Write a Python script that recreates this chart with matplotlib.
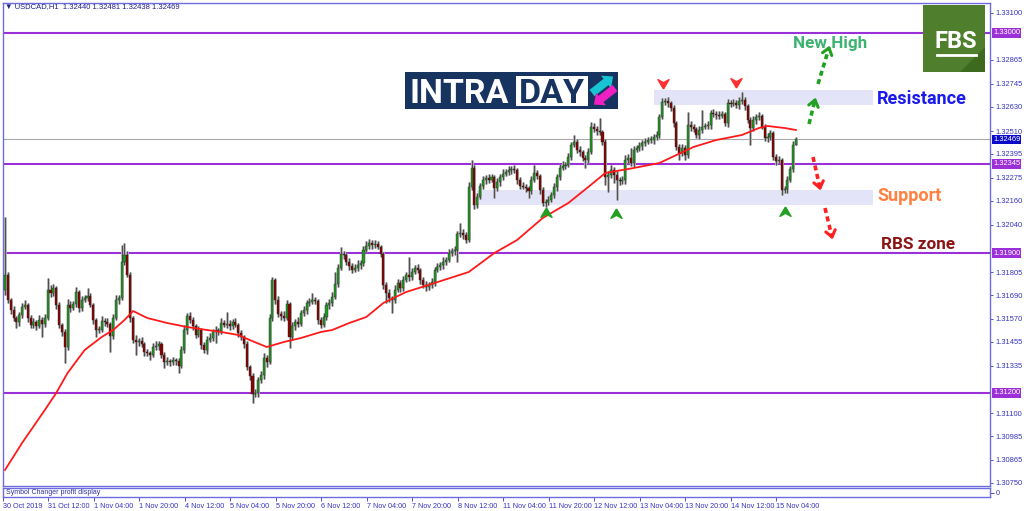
import numpy as np
import matplotlib
matplotlib.use("Agg")
import matplotlib.pyplot as plt
from matplotlib.patches import Rectangle, Polygon, FancyArrow
from matplotlib.lines import Line2D
from matplotlib.transforms import Affine2D, blended_transform_factory

W, H = 1024, 511

# 가격은 1.30000 기준 포인트(1e-5) 단위
FIRST_OPEN = 1715
CLOSE_PTS = [
    1790, 1665, 1615, 1575, 1555, 1590, 1630, 1640, 1575, 1540,
    1555, 1535, 1565, 1545, 1575, 1715, 1700, 1725, 1640, 1540,
    1505, 1430, 1640, 1625, 1645, 1705, 1625, 1665, 1675, 1685,
    1640, 1565, 1515, 1515, 1560, 1555, 1545, 1485, 1575, 1665,
    1675, 1855, 1890, 1790, 1575, 1465, 1455, 1460, 1445, 1405,
    1400, 1390, 1430, 1435, 1445, 1390, 1355, 1360, 1355, 1365,
    1360, 1335, 1415, 1515, 1585, 1565, 1535, 1490, 1515, 1440,
    1415, 1465, 1475, 1505, 1515, 1510, 1550, 1540, 1545, 1535,
    1555, 1540, 1500, 1480, 1445, 1330, 1285, 1195, 1200, 1265,
    1290, 1375, 1355, 1575, 1765, 1665, 1595, 1585, 1575, 1645,
    1480, 1535, 1555, 1545, 1600, 1615, 1650, 1655, 1665, 1660,
    1565, 1540, 1580, 1640, 1650, 1680, 1745, 1825, 1895, 1890,
    1855, 1835, 1815, 1825, 1840, 1850, 1915, 1935, 1950, 1940,
    1945, 1930, 1895, 1740, 1700, 1675, 1665, 1715, 1750, 1725,
    1765, 1790, 1780, 1805, 1825, 1815, 1765, 1740, 1730, 1740,
    1755, 1815, 1830, 1840, 1855, 1865, 1900, 1910, 1915, 1995,
    2000, 1990, 1965, 2230, 2325, 2140, 2180, 2235, 2265, 2275,
    2265, 2280, 2225, 2255, 2280, 2295, 2305, 2315, 2320, 2315,
    2265, 2235, 2230, 2225, 2210, 2265, 2300, 2285, 2215, 2150,
    2155, 2165, 2190, 2230, 2280, 2325, 2335, 2340, 2380, 2440,
    2455, 2415, 2405, 2375, 2365, 2405, 2530, 2520, 2510, 2505,
    2455, 2280, 2290, 2315, 2290, 2265, 2260, 2265, 2365, 2375,
    2350, 2415, 2425, 2435, 2450, 2455, 2465, 2465, 2480, 2490,
    2580, 2655, 2660, 2650, 2625, 2550, 2430, 2400, 2425, 2390,
    2540, 2530, 2520, 2490, 2515, 2530, 2535, 2540, 2600, 2595,
    2590, 2585, 2595, 2550, 2650, 2645, 2650, 2640, 2660, 2665,
    2635, 2565, 2525, 2565, 2580, 2585, 2530, 2475, 2480, 2500,
    2380, 2360, 2365, 2215, 2220, 2265, 2320, 2440, 2469,
]
UP_PTS = [
    290, 15, 10, 20, 10, 15, 20, 25, 10, 15,
    20, 10, 25, 15, 20, 60, 25, 20, 10, 15,
    10, 15, 30, 20, 15, 25, 10, 20, 15, 40,
    15, 10, 10, 20, 25, 15, 20, 10, 20, 25,
    15, 85, 60, 20, 15, 10, 25, 15, 20, 10,
    15, 10, 20, 25, 15, 10, 15, 20, 10, 15,
    10, 15, 20, 25, 15, 20, 15, 10, 20, 10,
    15, 20, 25, 15, 20, 10, 25, 15, 60, 20,
    15, 20, 10, 15, 10, 15, 10, 15, 20, 15,
    20, 25, 15, 20, 15, 10, 20, 15, 25, 20,
    10, 20, 15, 25, 15, 20, 15, 20, 35, 15,
    10, 15, 20, 15, 20, 25, 60, 20, 35, 15,
    10, 20, 15, 20, 25, 15, 20, 25, 20, 15,
    20, 15, 10, 10, 15, 20, 10, 25, 20, 15,
    20, 15, 90, 20, 15, 20, 10, 15, 20, 15,
    20, 15, 20, 15, 25, 15, 20, 15, 20, 15,
    50, 20, 15, 25, 40, 15, 20, 15, 20, 15,
    20, 15, 10, 20, 15, 25, 15, 20, 15, 20,
    10, 15, 20, 15, 10, 20, 40, 15, 10, 15,
    15, 20, 15, 20, 15, 20, 25, 15, 20, 15,
    35, 15, 20, 10, 15, 20, 25, 20, 15, 65,
    10, 15, 20, 25, 15, 20, 15, 20, 25, 20,
    50, 20, 15, 20, 15, 20, 15, 20, 15, 20,
    15, 20, 15, 20, 10, 15, 10, 15, 20, 15,
    65, 20, 15, 10, 20, 85, 15, 20, 15, 20,
    15, 20, 15, 10, 20, 15, 20, 15, 20, 40,
    15, 10, 15, 20, 15, 20, 10, 15, 20, 15,
    10, 15, 20, 10, 15, 20, 15, 20, 12,
]
DN_PTS = [
    25, 15, 20, 15, 30, 20, 15, 10, 20, 15,
    15, 20, 10, 65, 15, 10, 20, 15, 20, 15,
    20, 80, 15, 20, 10, 15, 20, 15, 10, 15,
    10, 20, 35, 15, 10, 20, 15, 80, 15, 10,
    20, 10, 15, 10, 20, 15, 65, 20, 15, 20,
    15, 25, 10, 15, 20, 15, 30, 15, 20, 15,
    20, 35, 10, 15, 20, 15, 20, 15, 10, 20,
    15, 20, 10, 15, 55, 20, 15, 10, 15, 20,
    15, 10, 20, 15, 20, 15, 20, 45, 15, 20,
    15, 20, 25, 10, 15, 20, 15, 20, 15, 10,
    55, 15, 20, 15, 10, 15, 20, 15, 10, 15,
    20, 15, 10, 15, 20, 15, 10, 15, 10, 20,
    15, 20, 15, 10, 15, 20, 15, 10, 15, 20,
    15, 10, 15, 20, 50, 20, 65, 15, 10, 20,
    15, 10, 20, 15, 10, 15, 20, 15, 20, 15,
    15, 20, 10, 15, 20, 15, 10, 15, 20, 60,
    15, 20, 15, 10, 15, 20, 15, 10, 15, 20,
    15, 10, 50, 15, 20, 15, 10, 15, 20, 15,
    20, 15, 10, 20, 35, 15, 10, 15, 20, 15,
    20, 15, 10, 15, 20, 15, 10, 15, 10, 15,
    10, 15, 20, 15, 40, 15, 10, 15, 20, 15,
    15, 40, 75, 15, 40, 100, 20, 15, 20, 15,
    15, 20, 10, 15, 20, 15, 10, 15, 20, 15,
    15, 10, 15, 20, 15, 20, 15, 35, 15, 25,
    15, 20, 15, 15, 20, 15, 10, 15, 20, 15,
    20, 15, 10, 15, 20, 15, 10, 15, 20, 15,
    20, 15, 85, 15, 20, 15, 10, 15, 20, 15,
    15, 20, 10, 25, 15, 20, 10, 15, 2,
]
# 이동평균선 (봉 번호, 포인트)
MA_BARS = [0, 6, 14, 18, 22, 28, 34, 38, 42, 45, 50, 57, 64, 71, 76, 82, 86,
           92, 98, 104, 111, 115, 121, 127, 133, 141, 151, 163, 172, 180, 189,
           198, 205, 211, 221, 230, 236, 242, 250, 259, 265, 268, 274, 278]
MA_PTS = [815, 950, 1115, 1200, 1300, 1415, 1480, 1515, 1565, 1610, 1575,
          1550, 1530, 1515, 1505, 1490, 1465, 1430, 1455, 1475, 1505, 1515,
          1550, 1580, 1650, 1705, 1750, 1805, 1900, 1965, 2075, 2150, 2230,
          2300, 2325, 2350, 2390, 2430, 2465, 2490, 2525, 2535, 2525, 2515]

TIME_LABELS = ["30 Oct 2019", "31 Oct 12:00", "1 Nov 04:00", "1 Nov 20:00",
               "4 Nov 12:00", "5 Nov 04:00", "5 Nov 20:00", "6 Nov 12:00",
               "7 Nov 04:00", "7 Nov 20:00", "8 Nov 12:00", "11 Nov 04:00",
               "11 Nov 20:00", "12 Nov 12:00", "13 Nov 04:00", "13 Nov 20:00",
               "14 Nov 12:00", "15 Nov 04:00"]
TIME_STEP = 16
PRICE_TICKS = [1.33100, 1.32865, 1.32745, 1.32630, 1.32510, 1.32395, 1.32275,
               1.32160, 1.32040, 1.31805, 1.31690, 1.31570, 1.31455, 1.31335,
               1.31100, 1.30985, 1.30865, 1.30750]
LEVELS = [1.33000, 1.32345, 1.31900, 1.31200]
LAST_PRICE = 1.32469
HEADER = "▼ USDCAD,H1  1.32440 1.32481 1.32438 1.32469"

SMALL = ["Liberation Sans", "DejaVu Sans"]
AXIS_BLUE = "#3434c4"
FRAME = "#6c6ce0"
PURPLE = "#9b30d9"

close = 1.3 + np.array(CLOSE_PTS) / 1e5
open_ = np.concatenate([[1.3 + FIRST_OPEN / 1e5], close[:-1]])
hi = np.maximum(open_, close) + np.array(UP_PTS) / 1e5
lo = np.minimum(open_, close) - np.array(DN_PTS) / 1e5
idx = np.arange(len(close))
bull = close >= open_

fig = plt.figure(figsize=(W / 100, H / 100), dpi=100)
fig.patch.set_facecolor("white")
PX = Affine2D().scale(1 / W, -1 / H).translate(0, 1) + fig.transFigure

XL = (-0.7, 346.2)
ax = fig.add_axes([3 / W, 1 - 486 / H, 987 / W, 483 / H])
ax.set_xlim(*XL)
ax.set_ylim(1.30735, 1.3315)
for s in ax.spines.values():
    s.set_color(FRAME)
    s.set_linewidth(1.0)

# 지지/저항 구간
ax.add_patch(Rectangle((228, 1.32640), 77, 0.00075, fc="#e4e4f8", ec="none", zorder=0.5))
ax.add_patch(Rectangle((166, 1.32140), 139, 0.00075, fc="#e4e4f8", ec="none", zorder=0.5))

for lv in LEVELS:
    ax.axhline(lv, color=PURPLE, lw=1.5, zorder=1)
ax.axhline(LAST_PRICE, color="#a8a8a8", lw=0.8, zorder=1)

# 캔들 (연한 회색 그림자 + 심지 + 몸통)
ax.vlines(idx, lo, hi, color="#b8b8b8", lw=2.0, zorder=1.8)
ax.vlines(idx, lo, hi, color="#505050", lw=0.8, zorder=2)
body = np.maximum(np.abs(close - open_), 0.00003)
ax.bar(idx, body, bottom=np.minimum(open_, close), width=0.72,
       color=np.where(bull, "#1e9e1e", "#8b0000"), edgecolor="#2a2a2a",
       linewidth=0.3, zorder=3)

ax.plot(MA_BARS, 1.3 + np.array(MA_PTS) / 1e5, color="#ff1a1a", lw=1.3, zorder=4)

# 고점/저점 표시
chev_up = [(0, 1), (1, -0.7), (0, -0.15), (-1, -0.7), (0, 1)]
chev_dn = [(x, -y) for x, y in chev_up]
for b, p in [(231.3, 1.32750), (256.9, 1.32755)]:
    ax.plot(b, p, marker=chev_dn, color="#ff3030", ms=8, zorder=5)
for b, p in [(190.2, 1.32100), (214.8, 1.32095), (274.2, 1.32105)]:
    ax.plot(b, p, marker=chev_up, color="#22a022", ms=8, zorder=5)

ax.set_xticks([])
ax.yaxis.tick_right()
ax.set_yticks(PRICE_TICKS)
ax.set_yticklabels([f"{t:.5f}" for t in PRICE_TICKS], family=SMALL)
ax.tick_params(axis="y", length=2, width=0.6, color=AXIS_BLUE,
               labelcolor=AXIS_BLUE, labelsize=5.4, pad=2)

tr = blended_transform_factory(ax.transAxes, ax.transData)
for lv in LEVELS:
    ax.text(1.003, lv, f"{lv:.5f}", transform=tr, ha="left", va="center",
            fontsize=5.4, family=SMALL, color="white", zorder=6,
            bbox=dict(boxstyle="square,pad=0.15", fc=PURPLE, ec="none"))
ax.text(1.003, LAST_PRICE, f"{LAST_PRICE:.5f}", transform=tr, ha="left",
        va="center", fontsize=5.4, family=SMALL, color="white", zorder=6,
        bbox=dict(boxstyle="square,pad=0.15", fc="#0a0ac8", ec="none"))

# 보조창 + 시간축
sub = fig.add_axes([3 / W, 1 - 497 / H, 987 / W, 9 / H])
sub.set_xlim(*XL)
sub.set_ylim(-1, 1)
for s in sub.spines.values():
    s.set_color(FRAME)
    s.set_linewidth(1.0)
sub.yaxis.tick_right()
sub.set_yticks([0], ["0"], family=SMALL)
sub.set_xticks([k * TIME_STEP - 1 for k in range(len(TIME_LABELS))], TIME_LABELS,
               ha="left", family=SMALL)
sub.tick_params(axis="both", length=3, width=0.6, color=AXIS_BLUE,
                labelcolor=AXIS_BLUE, labelsize=5.2, pad=1)
sub.text(0.003, 0.45, "Symbol Changer profit display", transform=sub.transAxes,
         fontsize=5, family=SMALL, color="#3030a0", va="center")

fig.text(5, 7, HEADER, transform=PX, fontsize=5.5, family=SMALL,
         color="#20208a", va="center")

# 라벨
fig.text(877, 104, "Resistance", transform=PX, fontsize=13, family="Roboto",
         weight="bold", color="#1a1aee")
fig.text(877, 201, "Support", transform=PX, fontsize=13, family="Roboto",
         weight="bold", color="#ff8040")
fig.text(881, 249, "RBS zone", transform=PX, fontsize=12.3, family="Roboto",
         weight="bold", color="#8b1414")
fig.text(793, 48, "New High", transform=PX, fontsize=12.3, family="Roboto",
         weight="bold", color="#3cb371")


def dashed_arrow(x0, y0, x1, y1, color):
    fig.add_artist(Line2D([x0, x1], [y0, y1], transform=PX, color=color,
                          lw=2.6, ls=(0, (1.4, 1.0))))
    ang = np.arctan2(y1 - y0, x1 - x0)
    for s in (-1, 1):
        a = ang + np.pi + s * 0.65
        fig.add_artist(Line2D([x1 + 8 * np.cos(a), x1], [y1 + 8 * np.sin(a), y1],
                              transform=PX, color=color, lw=2.2,
                              solid_capstyle="round"))


dashed_arrow(809, 124, 815, 100, "#22a022")
dashed_arrow(818, 84, 829, 48, "#22a022")
dashed_arrow(813, 157, 820, 188, "#ff2020")
dashed_arrow(825, 208, 832, 237, "#ff2020")

# FBS 로고
fig.patches.append(Rectangle((923, 5), 62, 67, transform=PX, fc="#4f7f2c", ec="none"))
fig.patches.append(Polygon([(960, 72), (985, 47), (985, 72)], closed=True,
                           transform=PX, fc="#3d6a1f", ec="none"))
fig.text(956, 48, "FBS", transform=PX, fontsize=17, family="Roboto",
         weight="bold", color="white", ha="center")
fig.add_artist(Line2D([937, 976], [55, 55], transform=PX, color="white", lw=2))

# INTRADAY 로고
fig.patches.append(Rectangle((405, 72), 213, 37, transform=PX, fc="#173461", ec="none"))
fig.patches.append(Rectangle((516, 76), 72, 30, transform=PX, fc="white", ec="none"))
fig.text(410, 103, "INTRA", transform=PX, fontsize=24.5, family="Roboto",
         weight="bold", color="white")
fig.text(519, 103, "DAY", transform=PX, fontsize=24.5, family="Roboto",
         weight="bold", color="#173461")
fig.patches.append(FancyArrow(592, 93, 14, -11, width=8, head_width=16,
                              head_length=9, transform=PX, fc="#19c4d2", ec="none"))
fig.patches.append(FancyArrow(615, 88, -14, 11, width=8, head_width=16,
                              head_length=9, transform=PX, fc="#f01fc4", ec="none"))

fig.savefig("out.png", dpi=100)
